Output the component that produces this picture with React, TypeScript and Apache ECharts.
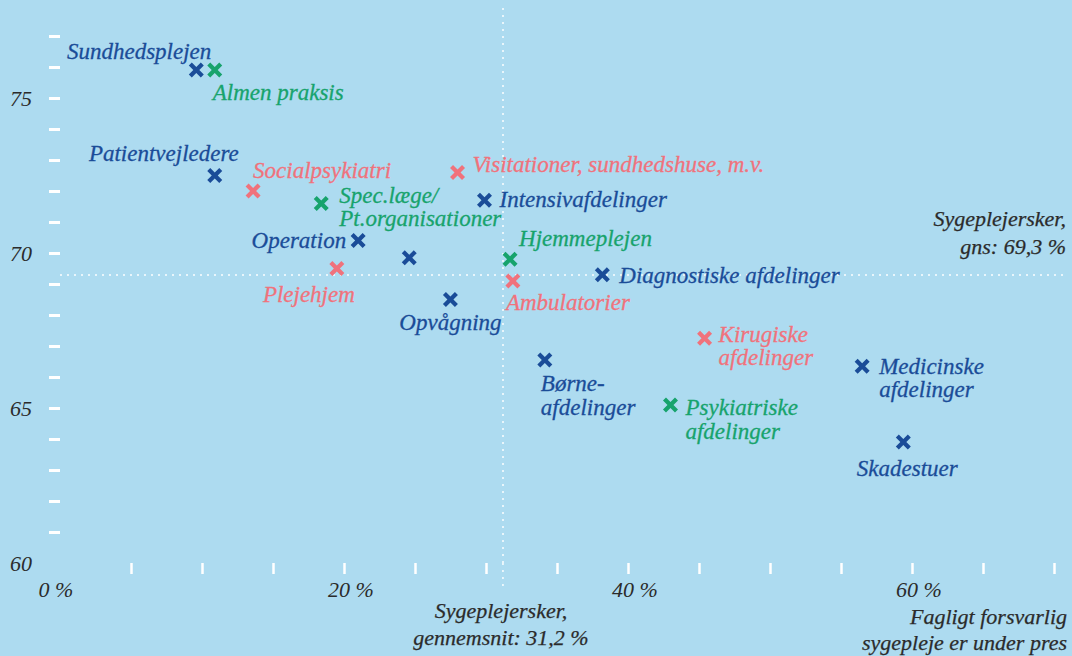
import React, { useEffect, useRef } from "react";
import * as echarts from "echarts";

// ---- data ----
const names = [
  "Sundhedsplejen",
  "Almen praksis",
  "Patientvejledere",
  "Socialpsykiatri",
  "Spec.læge/\nPt.organisationer",
  "Operation",
  "",
  "Plejehjem",
  "Opvågning",
  "Visitationer, sundhedshuse, m.v.",
  "Intensivafdelinger",
  "Hjemmeplejen",
  "Ambulatorier",
  "Diagnostiske afdelinger",
  "Kirugiske\nafdelinger",
  "Medicinske\nafdelinger",
  "Skadestuer",
  "Børne-\nafdelinger",
  "Psykiatriske\nafdelinger",
];
// share (%) where "fagligt forsvarlig sygepleje er under pres"
const xValues = [9.6, 10.9, 10.9, 13.6, 18.4, 21.0, 24.6, 19.5, 27.5, 28.0, 29.9, 31.7, 31.9, 38.2, 45.4, 56.5, 59.4, 34.15, 43.0];
const yValues = [75.9, 75.9, 72.5, 72.0, 71.6, 70.4, 69.85, 69.5, 68.5, 72.6, 71.7, 69.8, 69.1, 69.3, 67.25, 66.35, 63.9, 66.55, 65.1];
const groups = ["blue", "green", "blue", "pink", "green", "blue", "blue", "pink", "blue", "pink", "blue", "green", "pink", "blue", "pink", "blue", "blue", "blue", "green"];

const avgX = 31.2;
const avgY = 69.3;

const xLabelValues = [0, 20, 40, 60];
const xTickValues = [5, 10, 15, 20, 25, 30, 35, 40, 45, 50, 55, 60, 65, 70];
const yLabelValues = [60, 65, 70, 75];
const yTickValues = [61, 62, 63, 64, 65, 66, 67, 68, 69, 70, 71, 72, 73, 74, 75, 76, 77];

// ---- styles / layout ----
const COLORS: Record<string, string> = {
  blue: "#1a4c98",
  green: "#17a36c",
  pink: "#f0727c",
};
const BG = "#addbf0";
const TEXT = "#2b2b2b";
const FONT = '"Liberation Serif", "Times New Roman", serif';
const LABEL_SIZE = 23;

// label placement per name: [dx, dy, align, lineHeight]
const labelLayout: Record<string, [number, number, string, number?]> = {
  "Sundhedsplejen": [15, -19, "right"],
  "Almen praksis": [-2, 22, "left"],
  "Patientvejledere": [24, -22, "right"],
  "Socialpsykiatri": [0, -21, "left"],
  "Spec.læge/\nPt.organisationer": [18, 4, "left", 23],
  "Operation": [-12, 0, "right"],
  "Plejehjem": [18, 26, "right"],
  "Opvågning": [0, 23, "center"],
  "Visitationer, sundhedshuse, m.v.": [15, -8, "left"],
  "Intensivafdelinger": [15, -1, "left"],
  "Hjemmeplejen": [9, -21, "left"],
  "Ambulatorier": [-7, 22, "left"],
  "Diagnostiske afdelinger": [17, 1, "left"],
  "Kirugiske\nafdelinger": [14, 8, "left", 23],
  "Medicinske\nafdelinger": [17, 12, "left", 23],
  "Skadestuer": [4, 26, "center"],
  "Børne-\nafdelinger": [-4, 36, "left", 24],
  "Psykiatriske\nafdelinger": [15, 15, "left", 24],
};

const CROSS =
  "path://M0,3 L3,0 L7.5,4.5 L12,0 L15,3 L10.5,7.5 L15,12 L12,15 L7.5,10.5 L3,15 L0,12 L4.5,7.5 Z";

function buildSeries() {
  const keys = ["blue", "green", "pink"];
  return keys.map((key, si) => {
    const data: any[] = [];
    names.forEach((n, i) => {
      if (groups[i] !== key) return;
      const lay = labelLayout[n];
      const item: any = { name: n, value: [xValues[i], yValues[i]] };
      if (lay && n) {
        item.label = {
          show: true,
          position: "inside",
          align: lay[2],
          verticalAlign: "middle",
          offset: [lay[0], lay[1]],
          lineHeight: lay[3] || 24,
        };
      } else {
        item.label = { show: false };
      }
      data.push(item);
    });
    const s: any = {
      type: "scatter",
      name: key,
      symbol: CROSS,
      symbolSize: 15,
      itemStyle: { color: COLORS[key], opacity: 1 },
      label: {
        show: true,
        formatter: "{b}",
        color: COLORS[key],
        fontFamily: FONT,
        fontStyle: "italic",
        fontSize: LABEL_SIZE,
        textBorderColor: COLORS[key],
        textBorderWidth: 0.3,
      },
      emphasis: { disabled: true },
      data,
      z: 3,
    };
    if (si === 0) {
      s.markLine = {
        silent: true,
        symbol: "none",
        animation: false,
        label: { show: false },
        lineStyle: { color: "#ffffff", type: [2, 5], width: 1.5, opacity: 0.95 },
        data: [{ yAxis: avgY }, { xAxis: avgX }],
        z: 1,
      };
    }
    return s;
  });
}

const annotationStyle = {
  fill: TEXT,
  font: `italic 22px ${FONT}`,
  stroke: TEXT,
  lineWidth: 0.25,
};

export default function App() {
  const ref = useRef<HTMLDivElement>(null);
  useEffect(() => {
    document.body.style.margin = "0";
    document.body.style.background = BG;
    if (!ref.current) return;
    const chart = echarts.init(ref.current, undefined, { renderer: "svg" });
    const fmt = (v: number) => String(v).replace(".", ",");
    chart.setOption({
      animation: false,
      backgroundColor: BG,
      grid: { left: 60, right: 4, top: 5, bottom: 93, containLabel: false },
      xAxis: {
        type: "value",
        min: 0,
        max: 71,
        splitLine: { show: false },
        axisLine: { show: false },
        axisTick: {
          show: true,
          customValues: xTickValues,
          length: 11,
          lineStyle: { color: "#ffffff", width: 2.5 },
        },
        axisLabel: {
          customValues: xLabelValues,
          formatter: (v: number) => (v === 0 ? `{a|${v} %}` : `{b|${v} %}`),
          margin: 15,
          color: TEXT,
          fontFamily: FONT,
          fontStyle: "italic",
          fontSize: 22,
          rich: {
            a: { fontFamily: FONT, fontStyle: "italic", fontSize: 22, color: TEXT, padding: [0, 8, 0, 0] },
            b: { fontFamily: FONT, fontStyle: "italic", fontSize: 22, color: TEXT, padding: [0, 0, 0, 14] },
          },
        },
      },
      yAxis: {
        type: "value",
        min: 60,
        max: 78,
        splitLine: { show: false },
        axisLine: { show: false },
        axisTick: {
          show: true,
          customValues: yTickValues,
          length: 11,
          lineStyle: { color: "#ffffff", width: 3 },
        },
        axisLabel: {
          customValues: yLabelValues,
          margin: 28,
          color: TEXT,
          fontFamily: FONT,
          fontStyle: "italic",
          fontSize: 22,
        },
      },
      series: buildSeries(),
      graphic: [
        {
          type: "text",
          x: 1066,
          y: 232,
          style: {
            ...annotationStyle,
            text: `Sygeplejersker,\ngns: ${fmt(avgY)} %`,
            align: "right",
            verticalAlign: "middle",
            lineHeight: 28,
          },
        },
        {
          type: "text",
          x: 501,
          y: 624,
          style: {
            ...annotationStyle,
            text: `Sygeplejersker,\ngennemsnit: ${fmt(avgX)} %`,
            align: "center",
            verticalAlign: "middle",
            lineHeight: 27,
          },
        },
        {
          type: "text",
          x: 1067,
          y: 629,
          style: {
            ...annotationStyle,
            text: "Fagligt forsvarlig\nsygepleje er under pres",
            align: "right",
            verticalAlign: "middle",
            lineHeight: 26,
          },
        },
      ],
    });
    // extend the average line a little below the x axis, as in the reference
    const px = chart.convertToPixel({ xAxisIndex: 0 }, avgX) as number;
    const py = chart.convertToPixel({ yAxisIndex: 0 }, 60) as number;
    chart.setOption({
      graphic: [
        {
          type: "line",
          id: "avgExt",
          shape: { x1: px, y1: py, x2: px, y2: py + 24 },
          style: { stroke: "#ffffff", lineWidth: 1.5, lineDash: [2, 5], opacity: 0.95 },
          silent: true,
        },
      ],
    });
    return () => chart.dispose();
  }, []);
  return <div ref={ref} style={{ width: 1072, height: 656 }} />;
}
